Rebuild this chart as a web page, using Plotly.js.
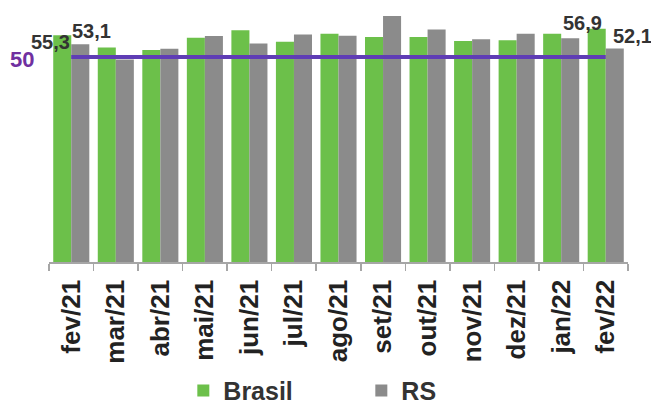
<!DOCTYPE html>
<html>
<head>
<meta charset="utf-8">
<script src="https://cdn.plot.ly/plotly-3.0.1.min.js"></script>
<style>
html,body{margin:0;padding:0;background:#fff;}
#chart{width:651px;height:408px;}
</style>
</head>
<body>
<div id="chart"></div>
<script>
var categories = ['fev/21','mar/21','abr/21','mai/21','jun/21','jul/21','ago/21','set/21','out/21','nov/21','dez/21','jan/22','fev/22'];
var brasil = [55.3, 52.3, 51.7, 54.7, 56.5, 53.7, 55.7, 54.9, 54.9, 53.9, 54.1, 55.7, 56.9];
var rs     = [53.1, 49.4, 52.0, 55.1, 53.3, 55.5, 55.2, 60.0, 56.7, 54.3, 55.7, 54.6, 52.1];
var reference = [50, 50, 50, 50, 50, 50, 50, 50, 50, 50, 50, 50, 50];
var refLabel = '50';

function fmt(v){ return v.toFixed(1).replace('.', ','); }

var last = categories.length - 1;

var traces = [
  {type:'bar', name:'Brasil', x:categories, y:brasil, marker:{color:'#6cc04a'}, hoverinfo:'skip'},
  {type:'bar', name:'RS', x:categories, y:rs, marker:{color:'#8b8b8b'}, hoverinfo:'skip'},
  {type:'scatter', mode:'lines', x:categories, y:reference, line:{color:'#5f3db5', width:4}, showlegend:false, hoverinfo:'skip'}
];

var labFont = {family:'Liberation Sans, Arial, sans-serif', size:20, color:'#333333', weight:'bold'};

var annotations = [
  {x:categories[0], y:brasil[0], xref:'x', yref:'y', text:fmt(brasil[0]), showarrow:false, xanchor:'right', yanchor:'top', xshift:1, yshift:6, font:labFont},
  {x:categories[0], y:rs[0], xref:'x', yref:'y', text:fmt(rs[0]), showarrow:false, xanchor:'center', yanchor:'bottom', xshift:20, yshift:0, font:labFont},
  {x:categories[last], y:brasil[last], xref:'x', yref:'y', text:fmt(brasil[last]), showarrow:false, xanchor:'center', yanchor:'bottom', xshift:-23, yshift:-7, font:labFont},
  {x:categories[last], y:rs[last], xref:'x', yref:'y', text:fmt(rs[last]), showarrow:false, xanchor:'center', yanchor:'bottom', xshift:27, yshift:-1, font:labFont},
  {x:0, y:reference[0], xref:'paper', yref:'y', text:'<b>'+refLabel+'</b>', showarrow:false, xanchor:'center', yanchor:'middle', xshift:-27, yshift:-2,
   font:{family:'Liberation Sans, Arial, sans-serif', size:22, color:'#7030a0'}}
];

var layout = {
  width:651, height:408,
  margin:{l:49, r:23, t:16, b:146, pad:0, autoexpand:false},
  paper_bgcolor:'#ffffff', plot_bgcolor:'#ffffff',
  barmode:'group', bargap:0.19, bargroupgap:0,
  showlegend:true,
  legend:{orientation:'h', x:0.232, xanchor:'left', y:-0.43, yanchor:'top',
          font:{family:'Liberation Sans, Arial, sans-serif', size:25, color:'#333333', weight:'bold'},
          traceorder:'normal', entrywidth:133, entrywidthmode:'pixels'},
  xaxis:{type:'category', range:[-0.5, 12.5], autorange:false, showline:true, linecolor:'#a6a6a6', linewidth:1.5, automargin:false,
         ticks:'outside', tickson:'boundaries', ticklen:7, tickcolor:'#a6a6a6', tickwidth:1.5,
         tickangle:-90, ticklabelstandoff:6,
         tickfont:{family:'Liberation Sans Narrow, Liberation Sans, Arial, sans-serif', size:26, color:'#222222', weight:'bold'},
         showgrid:false, zeroline:false, fixedrange:true},
  yaxis:{range:[0,60], visible:true, showticklabels:false, showgrid:false, zeroline:false, showline:false, ticks:'', fixedrange:true, automargin:false},
  annotations:annotations
};

Plotly.newPlot('chart', traces, layout, {displayModeBar:false, staticPlot:true});
</script>
</body>
</html>
